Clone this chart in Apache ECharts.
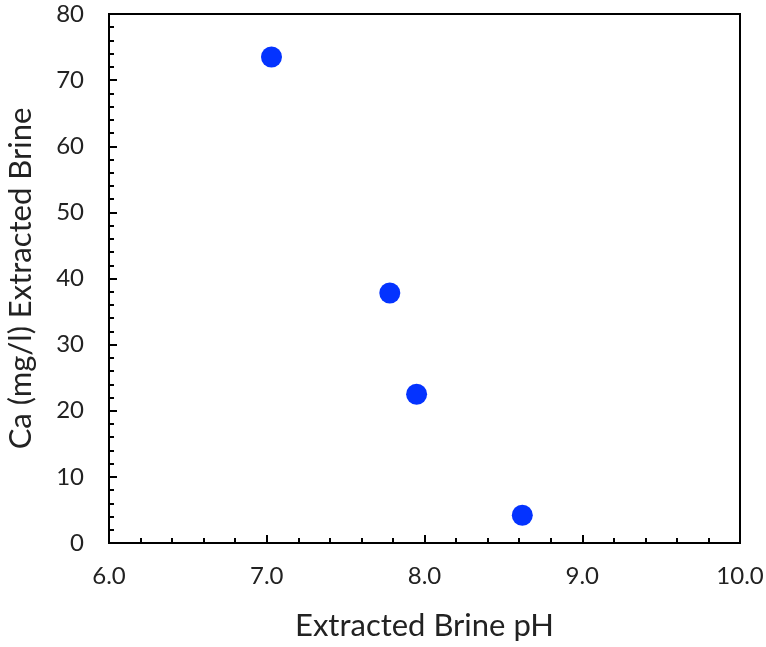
<!DOCTYPE html>
<html><head><meta charset="utf-8">
<script src="https://cdn.jsdelivr.net/npm/echarts@6/dist/echarts.min.js"></script>
<style>html,body{margin:0;padding:0;background:#fff}#c{width:766px;height:647px}</style>
</head><body><div id="c"></div>
<script>
const phValues = [7.03, 7.78, 7.95, 8.62];
const caValues = [73.5, 37.8, 22.5, 4.2];
const xTitle = 'Extracted Brine pH';
const yTitle = 'Ca (mg/l) Extracted Brine';

const chart = echarts.init(document.getElementById('c'));
const font = 'Lato, "Open Sans", sans-serif';
chart.setOption({
  animation: false,
  grid: {left: 109, right: 26, top: 14, bottom: 104, show: true, borderColor: '#000', borderWidth: 2,
         containLabel: false, outerBoundsMode: 'none'},
  xAxis: {
    type: 'value', min: 6, max: 10, interval: 1,
    name: xTitle, nameLocation: 'middle', nameGap: 67,
    nameTextStyle: {fontSize: 31, color: '#222', fontFamily: font},
    axisLine: {show: true, onZero: false, lineStyle: {color: '#000', width: 2}},
    axisTick: {show: true, inside: true, length: 8, lineStyle: {color: '#000', width: 2}},
    minorTick: {show: true, splitNumber: 5, length: 5, lineStyle: {color: '#000', width: 2}},
    splitLine: {show: false},
    axisLabel: {fontSize: 24, color: '#222', fontFamily: font, margin: 21, formatter: v => v.toFixed(1)}
  },
  yAxis: {
    type: 'value', min: 0, max: 80, interval: 10,
    name: yTitle, nameLocation: 'middle', nameGap: 73,
    nameTextStyle: {fontSize: 31, color: '#222', fontFamily: font},
    axisLine: {show: true, onZero: false, lineStyle: {color: '#000', width: 2}},
    axisTick: {show: true, inside: true, length: 8, lineStyle: {color: '#000', width: 2}},
    minorTick: {show: true, splitNumber: 5, length: 5, lineStyle: {color: '#000', width: 2}},
    splitLine: {show: false},
    axisLabel: {fontSize: 24, color: '#222', fontFamily: font, margin: 25}
  },
  series: [{
    type: 'scatter',
    data: phValues.map((x, i) => [x, caValues[i]]),
    symbolSize: 21,
    itemStyle: {color: '#0433ff', opacity: 1}
  }]
});
</script></body></html>
